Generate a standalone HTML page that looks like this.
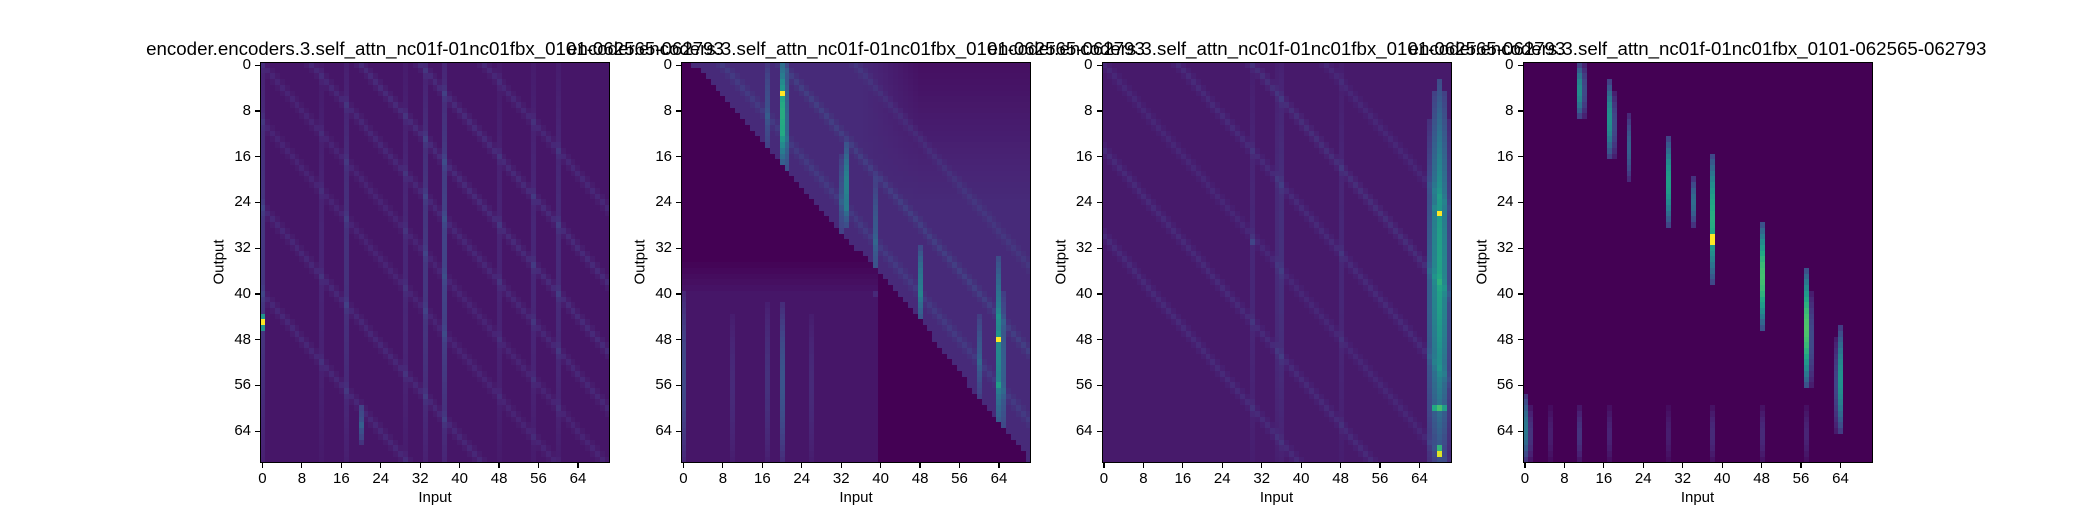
<!DOCTYPE html>
<html><head><meta charset="utf-8"><style>
html,body{margin:0;padding:0;background:#fff;}
#fig{position:relative;width:2080px;height:520px;overflow:hidden;font-family:"Liberation Sans","DejaVu Sans",sans-serif;color:#000;}
.ax{position:absolute;}
.ax canvas{position:absolute;left:0;top:0;image-rendering:pixelated;}
.frame{position:absolute;left:0;top:0;box-sizing:border-box;border:1.3px solid #000;}
.title{position:absolute;font-size:18.7px;white-space:nowrap;transform:translateX(-50%);}
.tk{position:absolute;font-size:15px;white-space:nowrap;}
.tm{position:absolute;background:#000;}
.lbl{position:absolute;font-size:15px;white-space:nowrap;}
</style></head><body>
<div id="fig"></div>
<script>
// ---- data (feature arrays) ----
const nRows = 70, nCols = 71;
const titles = ["encoder.encoders.3.self_attn_nc01f-01nc01fbx_0101-062565-062793",
  "encoder.encoders.3.self_attn_nc01f-01nc01fbx_0101-062565-062793",
  "encoder.encoders.3.self_attn_nc01f-01nc01fbx_0101-062565-062793",
  "encoder.encoders.3.self_attn_nc01f-01nc01fbx_0101-062565-062793"];
const tickLabels = [0,8,16,24,32,40,48,56,64];
const baseLevels = [0.06, 0.12, 0.07, 0.0];
// stripes: [col, rowStart, rowEnd, value]
const stripes1 = [[0,0,69,0.1],[17,0,69,0.08],[29,0,69,0.05],[33,0,69,0.1],[37,0,69,0.14],[12,0,69,0.04],[48,0,69,0.04],[55,0,69,0.05],[60,0,69,0.06],[20,60,66,0.2],[0,44,46,0.55]];
const stripes2 = [[20,0,17,0.5],[21,0,20,0.22],[17,0,16,0.12],[33,14,28,0.32],[32,16,30,0.14],[39,20,40,0.16],[48,32,45,0.28],[64,34,64,0.35],[65,40,66,0.18],[0,40,69,0.16],[20,42,69,0.2],[17,42,69,0.08],[10,44,69,0.06],[26,44,69,0.06],[60,44,58,0.16]];
const stripes3 = [[66,10,69,0.22],[67,5,69,0.38],[68,3,69,0.5],[69,5,69,0.38],[70,10,69,0.15],[36,0,69,0.07],[35,0,69,0.05],[30,0,69,0.04],[48,0,69,0.04]];
const stripes4 = [[11,0,9,0.48],[12,0,9,0.22],[17,3,16,0.5],[18,5,16,0.22],[21,9,20,0.3],[29,13,28,0.55],[34,20,28,0.35],[38,16,38,0.62],[48,28,46,0.7],[57,36,56,0.72],[58,40,56,0.22],[64,46,64,0.5],[63,48,64,0.2],[0,58,69,0.4],[1,60,69,0.15],[5,60,69,0.08],[11,60,69,0.15],[17,60,69,0.1],[29,60,69,0.08],[38,60,69,0.12],[48,60,69,0.12],[57,60,69,0.1]];
// diagonal bands: [offset (col-row), value]
const bands1 = [[-40,0.05],[-25,0.05],[-10,0.04],[0,0.04],[10,0.05],[20,0.06],[32,0.06],[45,0.05]];
const bands2 = [[8,0.05],[20,0.06],[35,0.04]];
const bands3 = [[-30,0.05],[-15,0.05],[0,0.04],[15,0.05],[30,0.06],[45,0.04]];
const bands4 = [];
// hot spots: [row, col, value]
const spots1 = [[45,0,1.0],[44,0,0.4],[63,20,0.3],[6,37,0.15]];
const spots2 = [[5,20,1.0],[6,20,0.55],[16,20,0.35],[48,64,1.0],[47,64,0.5],[56,64,0.55],[24,33,0.3]];
const spots3 = [[26,68,1.0],[25,67,0.45],[60,67,0.6],[60,68,0.7],[60,69,0.55],[68,68,0.95],[67,68,0.65],[31,30,0.2]];
const spots4 = [[30,38,1.0],[31,38,1.0],[28,38,0.55],[49,57,0.6],[50,57,0.5],[39,48,0.5],[58,64,0.45]];
// map 2 causal-like boundary: rows -> first bright col
const boundRows = [0,8,16,24,32,40,48,56,64,69];
const boundCols = [2,11,19,27,35,44,51,58,66,70];

const maps = [
  {stripes:stripes1,bands:bands1,spots:spots1,base:baseLevels[0]},
  {stripes:stripes2,bands:bands2,spots:spots2,base:baseLevels[1],masked:true},
  {stripes:stripes3,bands:bands3,spots:spots3,base:baseLevels[2]},
  {stripes:stripes4,bands:bands4,spots:spots4,base:baseLevels[3]}];

const vir = ["#440154","#482475","#414487","#355f8d","#2a788e","#21918c","#22a884","#44bf70","#7ad151","#bddf26","#fde725"];
function hex(h){return [parseInt(h.substr(1,2),16),parseInt(h.substr(3,2),16),parseInt(h.substr(5,2),16)];}
const virRGB = vir.map(hex);
function viridis(t){t=Math.max(0,Math.min(1,t));const p=t*10,i=Math.min(9,Math.floor(p)),f=p-i;const a=virRGB[i],b=virRGB[i+1];
  return `rgb(${Math.round(a[0]+(b[0]-a[0])*f)},${Math.round(a[1]+(b[1]-a[1])*f)},${Math.round(a[2]+(b[2]-a[2])*f)})`;}
function boundary(r){for(let k=0;k<boundRows.length-1;k++){if(r<=boundRows[k+1]){const f=(r-boundRows[k])/(boundRows[k+1]-boundRows[k]);return boundCols[k]+f*(boundCols[k+1]-boundCols[k]);}}return 70;}
function stripeAdd(s,r){ if(r<s[1]||r>s[2]) return 0; const L=Math.max(1,s[2]-s[1]); const p=Math.sin(Math.PI*(r-s[1]+0.5)/(L+1)); return s[3]*(0.3+0.7*p); }
function cellValue(m,r,c){
  let v=m.base;
  if(m.masked){const b=boundary(r); if(c<b){
      const lw = r>=40 && c<40 ? 0.06 : (r>=34 && c<40 ? 0.06*(r-34)/6 : 0);
      v = lw;
      if(r>=40 && c<40) for(const s of m.stripes){ if(s[0]===c) v+=stripeAdd(s,r); }
      return v;}
    const f=Math.min(1,0.35+0.65*r/24), w=Math.max(0,Math.min(1,(c-36)/12));
    v*=1-w*(1-f);}
  for(const s of m.stripes){ if(s[0]===c) v+=stripeAdd(s,r); }
  for(const b of m.bands){ const d=Math.abs((c-r)-b[0]); if(d<1.5) v+=b[1]*(1-d/1.5); }
  for(const s of m.spots){ if(s[0]===r&&s[1]===c) v=Math.max(v,s[2]); }
  return v;
}
const fig=document.getElementById('fig');
const axLeft=[260,681,1101.5,1522.5], axTop=62.3, axW=350, axH=400.4;
const cw=axW/nCols, ch=axH/nRows;
function xPos(c){return (c+0.5)*cw;} function yPos(r){return (r+0.5)*ch;}
maps.forEach((m,i)=>{
  const ax=document.createElement('div'); ax.className='ax';
  
  
  ax.style.left=axLeft[i]+'px'; ax.style.top=axTop+'px'; ax.style.width=axW+'px'; ax.style.height=axH+'px';
  const cv=document.createElement('canvas'); cv.width=axW; cv.height=Math.round(axH);
  
  
  const g=cv.getContext('2d');
  let mx=0; for(let r=0;r<nRows;r++)for(let c=0;c<nCols;c++)mx=Math.max(mx,cellValue(m,r,c));
  for(let r=0;r<nRows;r++)for(let c=0;c<nCols;c++){
    g.fillStyle=viridis(cellValue(m,r,c)/mx);
    const x0=Math.round(c*cw),x1=Math.round((c+1)*cw),y0=Math.round(r*ch),y1=Math.round((r+1)*ch);
    g.fillRect(x0,y0,x1-x0,y1-y0);
  }
  ax.appendChild(cv);
  const fr=document.createElement('div'); fr.className='frame'; fr.style.width=axW+'px'; fr.style.height=axH+'px';
  
  
  ax.appendChild(fr);
  tickLabels.forEach(t=>{
    const ym=document.createElement('div'); ym.className='tm'; ym.style.left='-5px'; ym.style.top=(yPos(t)-0.6)+'px'; ym.style.width='5px'; ym.style.height='1.2px';
    
    
    ax.appendChild(ym);
    const yl=document.createElement('div'); yl.className='tk'; yl.textContent=t; yl.style.right=(axW+9)+'px'; yl.style.top=(yPos(t)-9)+'px';
    
    
    ax.appendChild(yl);
    const xm=document.createElement('div'); xm.className='tm'; xm.style.left=(xPos(t)-0.6)+'px'; xm.style.top=axH+'px'; xm.style.width='1.2px'; xm.style.height='5px';
    
    
    ax.appendChild(xm);
    const xl=document.createElement('div'); xl.className='tk'; xl.textContent=t; xl.style.left=xPos(t)+'px'; xl.style.top=(axH+7)+'px'; xl.style.transform='translateX(-50%)';
    
    
    ax.appendChild(xl);
  });
  const xt=document.createElement('div'); xt.className='lbl'; xt.textContent='Input'; xt.style.left=(axW/2)+'px'; xt.style.top=(axH+26)+'px'; xt.style.transform='translateX(-50%)';
  
  
  ax.appendChild(xt);
  const yt=document.createElement('div'); yt.className='lbl'; yt.textContent='Output'; yt.style.left='-41px'; yt.style.top=(axH/2)+'px'; yt.style.transform='translate(-50%,-50%) rotate(-90deg)';
  
  
  ax.appendChild(yt);
  fig.appendChild(ax);
  const ti=document.createElement('div'); ti.className='title'; ti.textContent=titles[i]; ti.style.left=(axLeft[i]+axW/2)+'px'; ti.style.top='38px';
  
  
  fig.appendChild(ti);
});
</script>
</body></html>
